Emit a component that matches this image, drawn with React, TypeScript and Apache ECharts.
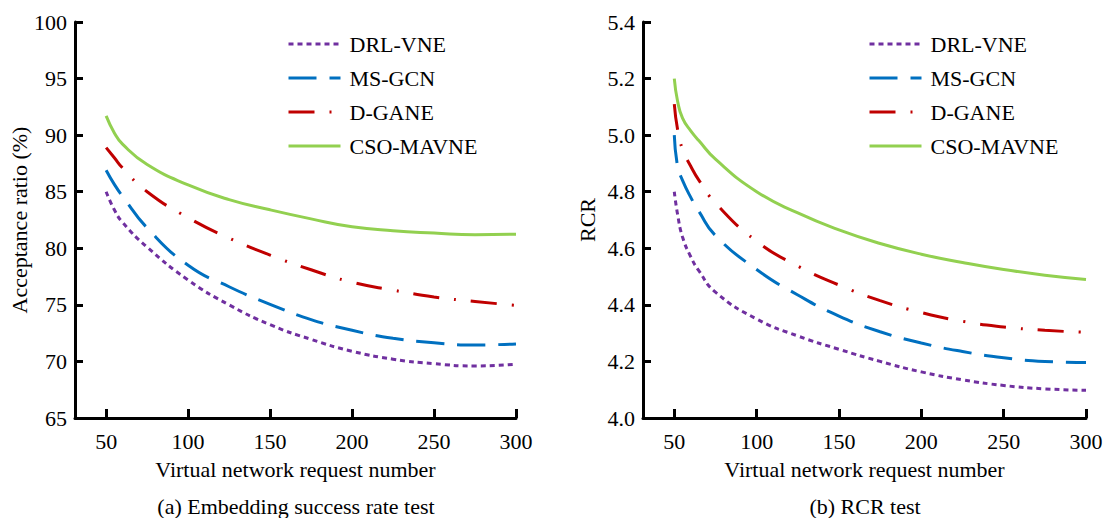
import React, { useEffect, useRef } from "react";
import * as echarts from "echarts";

const FONT = "Liberation Serif";

const seriesNames = ["DRL-VNE", "MS-GCN", "D-GANE", "CSO-MAVNE"];
const xTicks = [50, 100, 150, 200, 250, 300];

// (a) Embedding success rate test
const xA = [50, 55, 60, 75, 100, 125, 150, 175, 200, 225, 250, 275, 300];
const drlA = [85.0, 83.4, 82.3, 80.1, 77.2, 75.0, 73.25, 71.95, 70.9, 70.2, 69.8, 69.6, 69.75];
const msA = [86.9, 85.65, 84.6, 81.8, 78.5, 76.6, 75.05, 73.7, 72.75, 72.05, 71.65, 71.45, 71.55];
const dgA = [88.9, 88.0, 87.1, 85.0, 82.7, 80.9, 79.4, 78.1, 77.0, 76.3, 75.7, 75.3, 74.95];
const csoA = [91.7, 90.2, 89.2, 87.4, 85.6, 84.3, 83.4, 82.6, 81.9, 81.55, 81.35, 81.2, 81.25];

// (b) RCR test
const xB = [50, 52, 55, 60, 65, 75, 100, 125, 150, 175, 200, 225, 250, 275, 300];
const drlB = [4.8, 4.72, 4.64, 4.57, 4.52, 4.445, 4.35, 4.29, 4.243, 4.2, 4.163, 4.135, 4.115, 4.103, 4.098];
const msB = [5.0, 4.89, 4.84, 4.78, 4.73, 4.645, 4.525, 4.435, 4.36, 4.305, 4.265, 4.235, 4.213, 4.2, 4.196];
const dgB = [5.11, 5.02, 4.95, 4.89, 4.84, 4.76, 4.625, 4.537, 4.47, 4.415, 4.373, 4.342, 4.322, 4.31, 4.303];
const csoB = [5.2, 5.12, 5.06, 5.015, 4.98, 4.915, 4.8, 4.725, 4.665, 4.617, 4.579, 4.55, 4.525, 4.505, 4.49];

const colors = ["#7030A0", "#0070C0", "#C00000", "#92D050"];
const dashes: any[] = [[5, 4], [28, 13], [26, 15, 2, 15], "solid"];

const pairs = (xs: number[], ys: number[]) => xs.map((x, i) => [x, ys[i]]);

export default function App() {
  const ref = useRef<HTMLDivElement>(null);
  useEffect(() => {
    if (!ref.current) return;
    const chart = echarts.init(ref.current, null, { renderer: "svg" });

    const axisLine = { show: true, onZero: false, lineStyle: { color: "#000", width: 3 } };
    const mkX = (gridIndex: number) => ({
      type: "value",
      gridIndex,
      min: 31,
      max: 300,
      name: "Virtual network request number",
      nameLocation: "middle",
      nameGap: 40,
      nameTextStyle: { fontFamily: FONT, fontSize: 22, color: "#000" },
      axisLine,
      axisTick: {
        show: true,
        inside: true,
        length: 9,
        customValues: xTicks,
        lineStyle: { color: "#000", width: 3 },
      },
      axisLabel: {
        customValues: xTicks,
        fontFamily: FONT,
        fontSize: 22,
        color: "#000",
        margin: 12,
      },
      splitLine: { show: false },
    });
    const mkY = (gridIndex: number, min: number, max: number, interval: number, name: string, dec: number) => ({
      type: "value",
      gridIndex,
      min,
      max,
      interval,
      name,
      nameLocation: "middle",
      nameGap: 45,
      nameTextStyle: { fontFamily: FONT, fontSize: 22, color: "#000" },
      axisLine,
      axisTick: { show: true, inside: true, length: 8, lineStyle: { color: "#000", width: 3 } },
      axisLabel: {
        fontFamily: FONT,
        fontSize: 22,
        color: "#000",
        margin: 8,
        formatter: (v: number) => v.toFixed(dec),
      },
      splitLine: { show: false },
    });

    const groupsA = [drlA, msA, dgA, csoA];
    const groupsB = [drlB, msB, dgB, csoB];
    const series: any[] = [];
    [groupsA, groupsB].forEach((groups, gi) => {
      const xs = gi === 0 ? xA : xB;
      groups.forEach((ys, i) => {
        series.push({
          type: "line",
          name: seriesNames[i],
          xAxisIndex: gi,
          yAxisIndex: gi,
          data: pairs(xs, ys),
          symbol: "none",
          showSymbol: false,
          smooth: 0.5,
          color: colors[i],
          itemStyle: { color: colors[i] },
          lineStyle: { color: colors[i], width: 3, type: dashes[i], cap: "butt" },
        });
      });
    });

    const mkLegend = (left: number) => ({
      orient: "vertical",
      left,
      top: 33,
      padding: 0,
      itemWidth: 52,
      itemHeight: 22,
      itemGap: 12,
      data: seriesNames,
      lineStyle: { width: 3 },
      itemStyle: { opacity: 0, borderWidth: 0 },
      textStyle: { fontFamily: FONT, fontSize: 22, color: "#000", padding: [0, 0, 0, 4] },
    });

    chart.setOption({
      animation: false,
      backgroundColor: "#fff",
      grid: [
        { left: 75, top: 22, width: 441, height: 396 },
        { left: 643, top: 22, width: 443, height: 396 },
      ],
      xAxis: [mkX(0), mkX(1)],
      yAxis: [
        mkY(0, 65, 100, 5, "Acceptance ratio (%)", 0),
        mkY(1, 4.0, 5.4, 0.2, "RCR", 1),
      ],
      legend: [mkLegend(287), mkLegend(868)],
      series,
      graphic: [
        {
          type: "text",
          x: 296,
          y: 506,
          style: {
            text: "(a) Embedding success rate test",
            fontFamily: FONT,
            fontSize: 22,
            fill: "#000",
            align: "center",
            verticalAlign: "middle",
          },
        },
        {
          type: "text",
          x: 865,
          y: 506,
          style: {
            text: "(b) RCR test",
            fontFamily: FONT,
            fontSize: 22,
            fill: "#000",
            align: "center",
            verticalAlign: "middle",
          },
        },
      ],
    });
    return () => chart.dispose();
  }, []);
  return (
    <div
      ref={ref}
      style={{ position: "fixed", left: 0, top: 0, width: 1108, height: 518, background: "#fff" }}
    />
  );
}
